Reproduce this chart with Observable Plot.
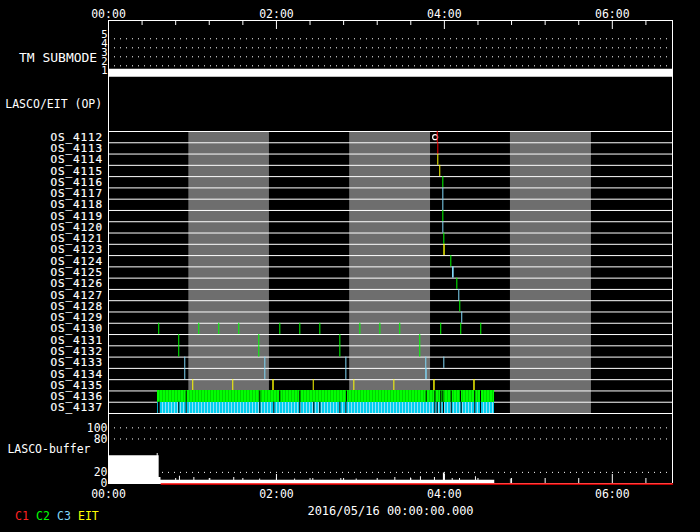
<!DOCTYPE html>
<html><head><meta charset="utf-8">
<script src="https://cdn.jsdelivr.net/npm/d3@7"></script>
<script src="https://cdn.jsdelivr.net/npm/@observablehq/plot@0.6"></script>
<style>
html,body{margin:0;padding:0;background:#000;}
#chart{position:relative;width:700px;height:532px;overflow:hidden;background:#000;}
#chart svg{position:absolute;left:0;top:0;}
#legend span{position:absolute;top:510px;font:11.5px "DejaVu Sans Mono",monospace;line-height:12px;white-space:nowrap;}
</style></head><body><div id="chart"><div id="legend"></div></div>
<script>
// ---------- data (time in minutes after 2016/05/16 00:00 UT) ----------
const timeDomain = [0, 403];
const majorTicks = [0, 120, 240, 360];
const minorTicks = [24, 48, 72, 96, 144, 168, 192, 216, 264, 288, 312, 336, 384];
const dateLabel = "2016/05/16 00:00:00.000";

const tmLevels = [1, 2, 3, 4, 5];
const tmGrid = [2, 3, 4, 5];
const tmSubmode = [[0, 1], [403, 1]];

const osRows = ["OS_4112","OS_4113","OS_4114","OS_4115","OS_4116","OS_4117","OS_4118","OS_4119","OS_4120","OS_4121",
  "OS_4123","OS_4124","OS_4125","OS_4126","OS_4127","OS_4128","OS_4129","OS_4130","OS_4131","OS_4132",
  "OS_4133","OS_4134","OS_4135","OS_4136","OS_4137"];

const grayBands = [[57.4, 115.0], [172.3, 230.1], [287.2, 345.1]];

// [row, start, duration]
const c1Obs = [["OS_4112", 234.9, 0], ["OS_4113", 235.3, 0]];
const c2Obs = [
  ["OS_4116", 238.9, 0], ["OS_4119", 238.9, 0], ["OS_4121", 239.6, 0], ["OS_4124", 244.6, 0],
  ["OS_4126", 248.9, 0], ["OS_4128", 251.0, 0],
  ["OS_4130", 35.9, 0], ["OS_4130", 64.5, 0], ["OS_4130", 78.8, 0], ["OS_4130", 93.1, 0],
  ["OS_4130", 122.4, 0], ["OS_4130", 136.7, 0], ["OS_4130", 151.0, 0], ["OS_4130", 179.6, 0],
  ["OS_4130", 193.9, 0], ["OS_4130", 208.1, 0], ["OS_4130", 237.4, 0], ["OS_4130", 251.7, 0], ["OS_4130", 266.0, 0],
  ["OS_4131", 50.2, 0], ["OS_4132", 50.2, 0], ["OS_4131", 107.4, 0], ["OS_4132", 107.4, 0],
  ["OS_4131", 165.3, 0], ["OS_4132", 165.3, 0], ["OS_4131", 222.4, 0], ["OS_4132", 222.4, 0]
];
const c3Obs = [
  ["OS_4117", 238.9, 0], ["OS_4118", 238.9, 0], ["OS_4120", 238.9, 0], ["OS_4125", 245.8, 1.2],
  ["OS_4127", 250.3, 0], ["OS_4129", 252.4, 0],
  ["OS_4133", 54.5, 0], ["OS_4134", 54.5, 0], ["OS_4133", 111.7, 0], ["OS_4134", 111.7, 0],
  ["OS_4133", 169.6, 0], ["OS_4134", 169.6, 0], ["OS_4133", 226.7, 0], ["OS_4134", 226.7, 1.0],
  ["OS_4133", 239.6, 0]
];
const eitObs = [
  ["OS_4114", 235.3, 0], ["OS_4115", 236.7, 0], ["OS_4123", 239.6, 1.0],
  ["OS_4135", 60.2, 0], ["OS_4135", 88.8, 0], ["OS_4135", 117.4, 1.0], ["OS_4135", 146.3, 0],
  ["OS_4135", 175.3, 0], ["OS_4135", 203.9, 0], ["OS_4135", 232.4, 1.0], ["OS_4135", 261.0, 1.0]
];
const markers = [["OS_4112", 233.4]];

// continuous sequences [row, start, end] and their gaps [start, duration]
const c2Seq = ["OS_4136", 34.8, 275.8];
const c3Seq = ["OS_4137", 34.8, 275.8];
const c2Gaps = [[55.5,0],[108.1,0],[122.4,0],[136.7,0],[170.1,0],[227.0,0],[233.2,0],[237.4,0],[238.9,0],[244.9,0],[251.5,0],[261.7,0],[265.8,0]];
const c3Gaps = [[35.6,1.4],[50.2,0],[55.5,0],[108.1,0],[118.1,0],[136.7,0],[146.7,0],[151.0,0],[165.3,0],[169.6,0],
  [233.2,0],[234.9,0],[237.4,0],[239.4,0],[244.9,0],[252.0,0],[261.7,0],[265.8,0]];

const bufferTicks = [0, 20, 80, 100];
const bufferGrid = [20, 80, 100];
const lascoBuffer = [[0,50],[34.8,54],[35.5,50],[36.2,11],[37.5,6],
  [50.7,13],[51.4,6],[61.0,11],[61.7,6],[72.4,9],[73.1,6],[89.5,11],[90.2,6],
  [108.0,8],[108.7,6],[120.0,9],[120.7,6],[133.0,8],[133.7,6],[146.0,9],[146.7,6],
  [166.0,9],[166.7,6],[177.0,8],[177.7,6],[204.6,11],[205.3,6],[215.8,10],[216.5,6],
  [222.9,12],[223.6,6],[232.9,11],[233.6,6],[239.3,19],[240.5,6],[245.6,9],[246.3,6],
  [250.8,9],[251.5,6],[262.2,12],[262.9,6],[276.0,0],[287.2,8],[287.7,0],[403,0]];
const c1Buffer = [[37.7, 0], [403, 0]];

const legendLabels = ["C1", "C2", "C3", "EIT"];
const legendColors = ["#ff2020", "#00ff00", "#80d8f8", "#ffff00"];

// ---------- rendering ----------
const W = 700, H = 532, ML = 108, MR = 28;
const FONT = "DejaVu Sans Mono, monospace";
const fmt = m => String(Math.floor(m / 60)).padStart(2, "0") + ":" + String(m % 60).padStart(2, "0");
const chart = document.getElementById("chart");

function panel(top, bottom, y, marks) {
  const svg = Plot.plot({
    width: W, height: H, marginLeft: ML, marginRight: MR, marginTop: top, marginBottom: H - bottom,
    x: {domain: timeDomain, axis: null},
    y: {...y, axis: null},
    style: {background: "transparent", color: "white", fontFamily: FONT, fontSize: "11.5px", overflow: "visible"},
    marks
  });
  chart.appendChild(svg);
  return svg;
}

// frame and time axes
const frameH = 483 - 20;
panel(20, 483, {domain: [0, 1]}, [
  Plot.ruleX(timeDomain, {stroke: "white"}),
  Plot.ruleY([0, 1], {stroke: "white"}),
  Plot.ruleX(minorTicks, {stroke: "white", insetBottom: frameH - 5}),
  Plot.ruleX(majorTicks, {stroke: "white", insetBottom: frameH - 9}),
  Plot.ruleX(minorTicks, {stroke: "white", insetTop: frameH - 5}),
  Plot.ruleX(majorTicks, {stroke: "white", insetTop: frameH - 9}),
  Plot.text(majorTicks, {x: d => d, text: fmt, frameAnchor: "top", dy: -10.5}),
  Plot.text(majorTicks, {x: d => d, text: fmt, frameAnchor: "bottom", dy: 14.5}),
  Plot.text([dateLabel], {frameAnchor: "bottom", dy: 31, fontSize: 12})
]);

// TM submode panel
panel(20, 80, {domain: [0.37, 7.03]}, [
  Plot.ruleY(tmGrid, {stroke: "white", strokeDasharray: "1,5"}),
  Plot.lineY(tmSubmode, {x: d => d[0], y: d => d[1], stroke: "white", strokeWidth: 8, strokeLinecap: "butt", dy: -2}),
  Plot.text(tmLevels, {y: d => d, text: d => String(d), frameAnchor: "left", textAnchor: "end", dx: -1, dy: -4.5, fontSize: 10.5}),
  Plot.text(["TM SUBMODE"], {frameAnchor: "left", textAnchor: "end", dx: -11.3, dy: 7.3, fontSize: 13})
]);

// OP label panel
panel(80, 131, {domain: [0, 1]}, [
  Plot.text(["LASCO/EIT (OP)"], {frameAnchor: "left", textAnchor: "end", dx: -6.3, dy: -1.5})
]);

// OS rows panel
const idx = r => osRows.indexOf(r);
const toEv = arr => arr.map(([r, t, d]) => ({i: idx(r), t, d}));
const evMarks = (arr, color) => {
  const ev = toEv(arr);
  return [
    Plot.ruleX(ev.filter(e => e.d === 0), {x: "t", y1: "i", y2: e => e.i + 1, stroke: color}),
    Plot.rect(ev.filter(e => e.d > 0), {x1: "t", x2: e => e.t + e.d, y1: "i", y2: e => e.i + 1, fill: color})
  ];
};
const gapMarks = (gaps, row) => {
  const i = idx(row);
  const g = gaps.map(([t, d]) => ({t, d, i}));
  return [
    Plot.ruleX(g.filter(e => e.d === 0), {x: "t", y1: "i", y2: e => e.i + 1, stroke: "black"}),
    Plot.rect(g.filter(e => e.d > 0), {x1: "t", x2: e => e.t + e.d, y1: "i", y2: e => e.i + 1, fill: "black"})
  ];
};
const rowBounds = osRows.map((_, i) => i).concat([osRows.length]);
const rowsSvg = panel(131, 413, {domain: [osRows.length, 0]}, [
  Plot.rect(grayBands, {x1: d => d[0], x2: d => d[1], fill: "#6e6e6e"}),
  Plot.ruleY(rowBounds, {stroke: "white"}),
  ...evMarks(c2Obs, "#00ff00"),
  ...evMarks(c3Obs, "#80d8f8"),
  ...evMarks(eitObs, "#ffff00"),
  Plot.dot(markers, {x: d => d[1], y: d => idx(d[0]) + 0.5, r: 2.5, stroke: "white", strokeWidth: 1.2}),
  ...evMarks(c1Obs, "#ff0000"),
  Plot.rect([c2Seq], {x1: d => d[1], x2: d => d[2], y1: d => idx(d[0]), y2: d => idx(d[0]) + 1, fill: "url(#c2pat)", shapeRendering: "crispEdges"}),
  Plot.rect([c3Seq], {x1: d => d[1], x2: d => d[2], y1: d => idx(d[0]), y2: d => idx(d[0]) + 1, fill: "url(#c3pat)", shapeRendering: "crispEdges"}),
  ...gapMarks(c2Gaps, c2Seq[0]),
  ...gapMarks(c3Gaps, c3Seq[0]),
  Plot.ruleY([osRows.length], {stroke: "white"}),
  Plot.text(osRows, {y: (d, i) => i + 0.5, text: d => d, frameAnchor: "left", textAnchor: "end", dx: -5.4, fontSize: 11,
    fill: "white", stroke: "white", strokeWidth: 0.2})
]);
d3.select(rowsSvg).selectAll("text").style("letter-spacing", "0.9px");
// stripe patterns for the dense sequences
const NS = "http://www.w3.org/2000/svg";
const defs = document.createElementNS(NS, "defs");
function pattern(id, base, stripe) {
  const p = document.createElementNS(NS, "pattern");
  p.setAttribute("id", id); p.setAttribute("patternUnits", "userSpaceOnUse");
  p.setAttribute("width", "3"); p.setAttribute("height", "20");
  const a = document.createElementNS(NS, "rect");
  a.setAttribute("width", "3"); a.setAttribute("height", "20"); a.setAttribute("fill", base);
  const b = document.createElementNS(NS, "rect");
  b.setAttribute("width", "1"); b.setAttribute("height", "20"); b.setAttribute("fill", stripe);
  p.appendChild(a); p.appendChild(b); defs.appendChild(p);
}
pattern("c2pat", "#00ff00", "#00d400");
pattern("c3pat", "#00cef0", "#90e2f6");
rowsSvg.insertBefore(defs, rowsSvg.firstChild);

// LASCO buffer panel
panel(419, 483, {domain: [0, 115]}, [
  Plot.areaY(lascoBuffer, {x: d => d[0], y: d => d[1], curve: "step-after", fill: "white"}),
  Plot.ruleY(bufferGrid, {stroke: "white", strokeDasharray: "1,5"}),
  Plot.lineY(c1Buffer, {x: d => d[0], y: d => d[1], stroke: "#ff0000", strokeWidth: 1.5, dy: 0.5}),
  Plot.text(bufferTicks, {y: d => d, text: d => String(d), frameAnchor: "left", textAnchor: "end", dx: -1}),
  Plot.text(["LASCO-buffer"], {frameAnchor: "left", textAnchor: "end", dx: -18, dy: -2})
]);

// legend
const legendX = [15, 36, 57, 78];
const legend = document.getElementById("legend");
legendLabels.forEach((t, k) => {
  const s = document.createElement("span");
  s.textContent = t; s.style.color = legendColors[k]; s.style.left = legendX[k] + "px";
  legend.appendChild(s);
});
</script></body></html>
